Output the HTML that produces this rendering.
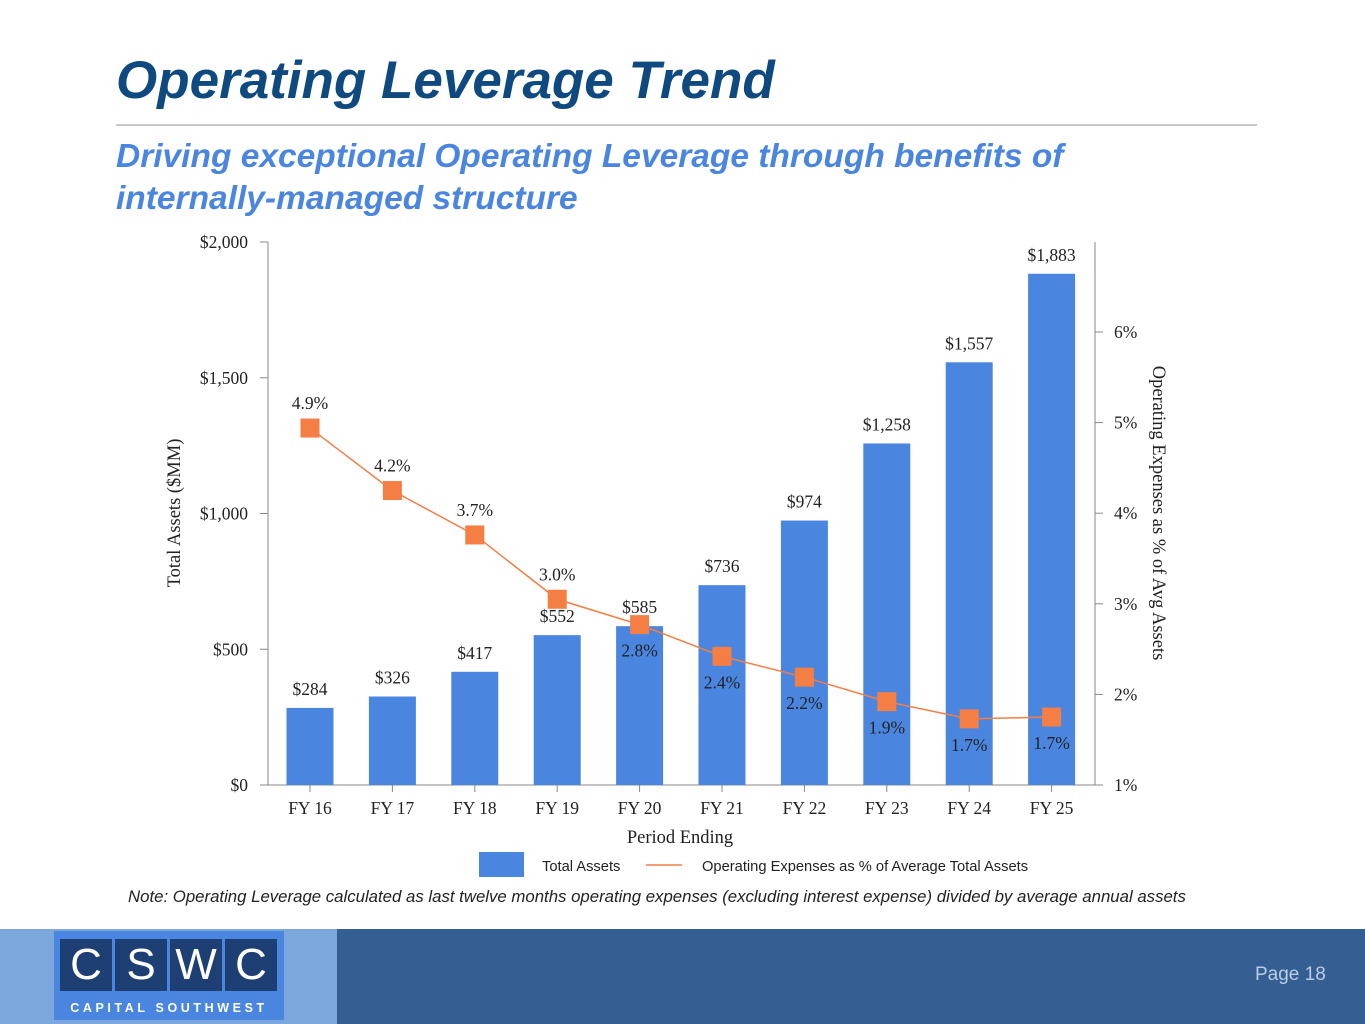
<!DOCTYPE html>
<html><head><meta charset="utf-8"><style>
body{margin:0;width:1365px;height:1024px;overflow:hidden;background:#fff;font-family:"Liberation Sans",sans-serif;position:relative}
.abs{position:absolute}
</style></head><body>
<div class="abs" style="left:116px;top:50px;font-size:53px;font-weight:bold;font-style:italic;color:#0e4a80">Operating Leverage Trend</div>
<div class="abs" style="left:116px;top:124px;width:1141px;height:2px;background:#c8c8c8"></div>
<div class="abs" style="left:116px;top:136px;font-size:33.5px;line-height:42px;font-weight:bold;font-style:italic;color:#4a86df">Driving exceptional Operating Leverage through benefits of<br>internally-managed structure</div>
<svg class="abs" style="left:0;top:0" width="1365" height="930" id="chart"></svg>
<div class="abs" style="left:128px;top:887px;font-size:16.8px;font-style:italic;color:#222">Note: Operating Leverage calculated as last twelve months operating expenses (excluding interest expense) divided by average annual assets</div>
<div class="abs" style="left:0;top:929px;width:1365px;height:95px;background:#355f92"></div>
<div class="abs" style="left:0;top:929px;width:337px;height:95px;background:#7ba7dc"></div>
<div class="abs" style="left:54px;top:931px;width:230px;height:89px;background:#4a86df">
  <div style="position:absolute;left:6px;top:8px;display:flex;gap:3px">
    <div style="width:52px;height:52px;background:#1e3f73;color:#fff;font-size:44px;text-align:center;line-height:52px">C</div>
    <div style="width:52px;height:52px;background:#1e3f73;color:#fff;font-size:44px;text-align:center;line-height:52px">S</div>
    <div style="width:52px;height:52px;background:#1e3f73;color:#fff;font-size:44px;text-align:center;line-height:52px">W</div>
    <div style="width:52px;height:52px;background:#1e3f73;color:#fff;font-size:44px;text-align:center;line-height:52px">C</div>
  </div>
  <div style="position:absolute;left:0;top:70px;width:230px;text-align:center;color:#fff;font-size:12.5px;font-weight:bold;letter-spacing:3.6px">CAPITAL SOUTHWEST</div>
</div>
<div class="abs" style="left:1255px;top:964px;font-size:19px;color:#b8cde6">Page 18</div>
<script>
const categories=["FY 16","FY 17","FY 18","FY 19","FY 20","FY 21","FY 22","FY 23","FY 24","FY 25"];
const assets=[284,326,417,552,585,736,974,1258,1557,1883];
const assetLabels=["$284","$326","$417","$552","$585","$736","$974","$1,258","$1,557","$1,883"];
const opexPct=[4.94,4.25,3.76,3.05,2.77,2.42,2.19,1.92,1.73,1.75];
const opexLabels=["4.9%","4.2%","3.7%","3.0%","2.8%","2.4%","2.2%","1.9%","1.7%","1.7%"];
const leftTicks=[0,500,1000,1500,2000];
const leftTickLabels=["$0","$500","$1,000","$1,500","$2,000"];
const rightTicks=[1,2,3,4,5,6];
const rightTickLabels=["1%","2%","3%","4%","5%","6%"];
const svg=document.getElementById('chart');
const NS='http://www.w3.org/2000/svg';
const X0=268,X1=1095,Y0=785;
const yL=v=>Y0-v*(543/2000);
const yR=v=>Y0-(v-1)*90.6;
const xC=i=>310+i*82.4;
function mk(t,a,txt){const e=document.createElementNS(NS,t);for(const k in a)e.setAttribute(k,a[k]);if(txt!==undefined)e.textContent=txt;svg.appendChild(e);return e;}
const serif='"Liberation Serif",serif';
let e;
e=mk('line',{x1:X0,y1:242,x2:X0,y2:Y0,stroke:'#888'});

e=mk('line',{x1:X1,y1:242,x2:X1,y2:Y0,stroke:'#888'});

e=mk('line',{x1:X0,y1:Y0,x2:X1,y2:Y0,stroke:'#888'});

leftTicks.forEach((v,i)=>{mk('line',{x1:X0-8,y1:yL(v),x2:X0,y2:yL(v),stroke:'#888'});
 e=mk('text',{x:X0-20,y:yL(v)+6,'text-anchor':'end','font-family':serif,'font-size':17.5,fill:'#222'},leftTickLabels[i]);
 });
rightTicks.forEach((v,i)=>{mk('line',{x1:X1,y1:yR(v),x2:X1+8,y2:yR(v),stroke:'#888'});
 e=mk('text',{x:X1+19,y:yR(v)+6,'font-family':serif,'font-size':17.5,fill:'#222'},rightTickLabels[i]);
 });
categories.forEach((c,i)=>{mk('line',{x1:xC(i),y1:Y0,x2:xC(i),y2:Y0+7,stroke:'#888'});
 e=mk('text',{x:xC(i),y:Y0+29,'text-anchor':'middle','font-family':serif,'font-size':17.5,fill:'#222'},c);
 });
assets.forEach((v,i)=>{
 e=mk('rect',{x:xC(i)-23.5,y:yL(v),width:47,height:Y0-yL(v),fill:'#4a86e0'});
 
 e=mk('text',{x:xC(i),y:yL(v)-13,'text-anchor':'middle','font-family':serif,'font-size':17.5,fill:'#222'},assetLabels[i]);
 });
e=mk('polyline',{points:opexPct.map((v,i)=>xC(i)+','+yR(v)).join(' '),fill:'none',stroke:'#f47e43','stroke-width':1.5});

opexPct.forEach((v,i)=>{
 e=mk('rect',{x:xC(i)-9.5,y:yR(v)-9.5,width:19,height:19,fill:'#f47e43'});
 
 const above=i<4;
 e=mk('text',{x:xC(i),y:above?yR(v)-19:yR(v)+32,'text-anchor':'middle','font-family':serif,'font-size':17.5,fill:'#222'},opexLabels[i]);
 });
e=mk('text',{x:180,y:513,'text-anchor':'middle','font-family':serif,'font-size':18.5,fill:'#222',transform:'rotate(-90 180 513)'},'Total Assets ($MM)');

e=mk('text',{x:1153,y:513,'text-anchor':'middle','font-family':serif,'font-size':18.5,fill:'#222',transform:'rotate(90 1153 513)'},'Operating Expenses as % of Avg Assets');

e=mk('text',{x:680,y:843,'text-anchor':'middle','font-family':serif,'font-size':18.5,fill:'#222'},'Period Ending');

e=mk('rect',{x:479,y:852,width:45,height:25,fill:'#4a86e0'});

e=mk('text',{x:542,y:871,'font-family':'"Liberation Sans",sans-serif','font-size':14.7,fill:'#222'},'Total Assets');

e=mk('line',{x1:646,y1:865,x2:682,y2:865,stroke:'#f47e43','stroke-width':1.5});

e=mk('text',{x:702,y:871,'font-family':'"Liberation Sans",sans-serif','font-size':14.7,fill:'#222'},'Operating Expenses as % of Average Total Assets');

</script>
</body></html>
